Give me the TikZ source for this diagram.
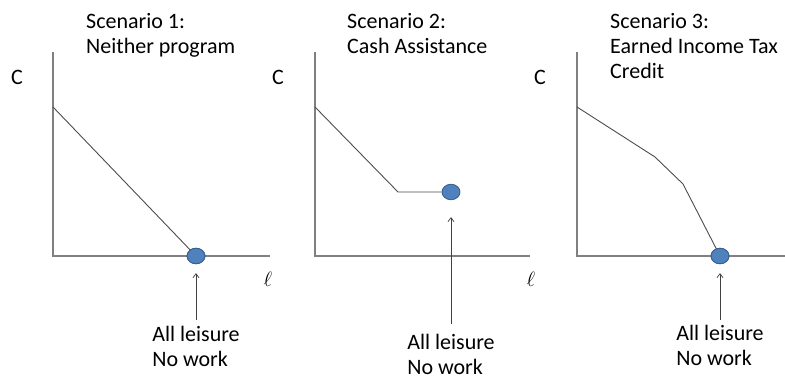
\documentclass[tikz,border=0pt]{standalone}
\usepackage{fontspec}
\setmainfont{Carlito}
\usepackage{tikz}
\usetikzlibrary{arrows.meta,positioning,shapes.geometric}
\definecolor{dotblue}{RGB}{79,129,189}
\definecolor{dotedge}{RGB}{56,93,138}
\definecolor{axisgray}{RGB}{128,128,128}

\begin{document}
\begin{tikzpicture}[x=1pt,y=-1pt,
    axis/.style={axisgray, line width=1.2pt},
    budget/.style={black!70, line width=0.9pt},
    point/.style={ellipse, draw=dotedge, fill=dotblue, line width=0.8pt, minimum width=18pt, minimum height=15.5pt, inner sep=0pt},
    pointer/.style={-{Straight Barb[length=4pt,width=6pt]}, black!75, line width=0.7pt},
    txt/.style={font=\fontsize{22}{25}\selectfont, inner sep=0pt, align=left},
  ]
    \useasboundingbox (0,0) rectangle (785,379);

    % Scenario 1: neither program
    \node[txt, anchor=north west] (title1) at (86,13) {Scenario 1:\\Neither program};
    \node[txt] (c1) at (17,77) {C};
    \coordinate (o1) at (53,256);
    \coordinate (top1) at (53,52);
    \coordinate (end1) at (270,256);
    \draw[axis] (top1) -- (o1) -- (end1);
    \node[txt] (ell1) at (268,279) {$\ell$};
    \coordinate (k1) at (53,107);
    \node[point] (dot1) at (196,256) {};
    \draw[budget] (k1) -- (dot1.center);
    \node[point] at (dot1) {};
    \node[txt, below=62pt of dot1] (lbl1) {All leisure\\No work};
    \draw[pointer, shorten <=6pt, shorten >=9pt] (lbl1.north) -- (dot1.south);

    % Scenario 2: cash assistance
    \node[txt, anchor=north west] (title2) at (347,13) {Scenario 2:\\Cash Assistance};
    \node[txt] (c2) at (278,77) {C};
    \coordinate (o2) at (315,256);
    \coordinate (top2) at (315,52);
    \coordinate (end2) at (530,256);
    \draw[axis] (top2) -- (o2) -- (end2);
    \node[txt] (ell2) at (531,279) {$\ell$};
    \coordinate (k2) at (315,107);
    \coordinate (kink2) at (398,192);
    \node[point] (dot2) at (451,192) {};
    \draw[budget] (k2) -- (kink2) -- (dot2);
    \node[txt, below=134pt of dot2] (lbl2) {All leisure\\No work};
    \draw[pointer, shorten <=10pt, shorten >=17pt] (lbl2.north) -- (dot2.south);

    % Scenario 3: earned income tax credit
    \node[txt, anchor=north west] (title3) at (610,13) {Scenario 3:\\Earned Income Tax\\Credit};
    \node[txt] (c3) at (540,77) {C};
    \coordinate (o3) at (577,256);
    \coordinate (top3) at (577,52);
    \coordinate (end3) at (785,256);
    \draw[axis] (top3) -- (o3) -- (end3);
    \coordinate (k3) at (577,107);
    \coordinate (phasein3) at (655,157);
    \coordinate (plateau3) at (683,184);
    \node[point] (dot3) at (720,256) {};
    \draw[budget] (k3) -- (phasein3) -- (plateau3) -- (dot3.center);
    \node[point] at (dot3) {};
    \node[txt, below=61pt of dot3] (lbl3) {All leisure\\No work};
    \draw[pointer, shorten <=5pt, shorten >=9pt] (lbl3.north) -- (dot3.south);
\end{tikzpicture}
\end{document}
